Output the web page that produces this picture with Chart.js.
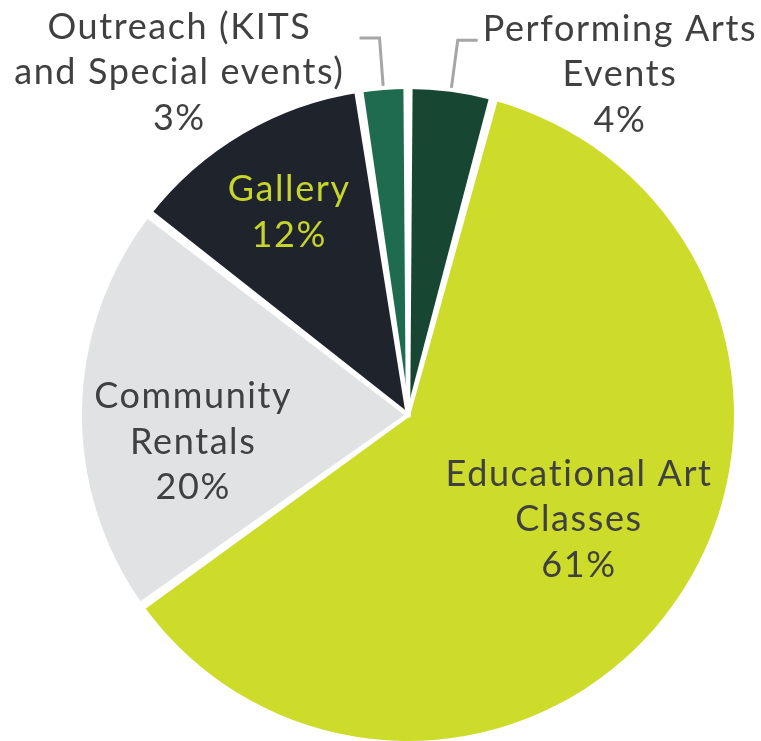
<!DOCTYPE html>
<html>
<head>
<meta charset="utf-8">
<script src="https://cdn.jsdelivr.net/npm/chart.js@4/dist/chart.umd.min.js"></script>
<style>
  html, body { margin: 0; padding: 0; background: #ffffff; overflow: hidden; }
  #wrap { width: 761px; height: 741px; position: relative; }
</style>
</head>
<body>
<div id="wrap"><canvas id="c" width="761" height="741"></canvas></div>
<script>
// ---- data ----
const categories = ['Performing Arts Events', 'Educational Art Classes', 'Community Rentals', 'Gallery', 'Outreach (KITS and Special events)'];
// slice sizes (labels show rounded percentages)
const values = [4.2, 60.9, 20.4, 12.1, 2.4];
const labelLines = [
  ['Performing Arts', 'Events', '4%'],
  ['Educational Art', 'Classes', '61%'],
  ['Community', 'Rentals', '20%'],
  ['Gallery', '12%'],
  ['Outreach (KITS', 'and Special events)', '3%']
];

// ---- styles ----
const colors = ['#174733', '#cddc2b', '#e1e2e4', '#1e232c', '#1f6b50'];
const labelColors = ['#404040', '#404040', '#404040', '#c6d52b', '#404040'];
const labelStyle = [
  { outside: true, side: 1 },
  { frac: 0.615, dAng: -3.3 },
  { frac: 0.664, dAng: -8.3 },
  { frac: 0.72, dAng: 0 },
  { outside: true, side: -1 }
];
const FONT = '36px Lato';
const LETTER = '1.6px';
const LINE_H = 45.5;

const labelPlugin = {
  id: 'sliceLabels',
  afterDatasetsDraw(chart) {
    const ctx = chart.ctx;
    const meta = chart.getDatasetMeta(0);
    // white tapered separators between slices
    ctx.save();
    ctx.fillStyle = '#ffffff';
    meta.data.forEach(arc => {
      const p = arc.getProps(['x', 'y', 'startAngle', 'outerRadius'], true);
      const a = p.startAngle, R = p.outerRadius + 4;
      const nx = -Math.sin(a), ny = Math.cos(a);
      const w0 = 2.2, w1 = 4.6;
      ctx.beginPath();
      ctx.moveTo(p.x + nx * w0, p.y + ny * w0);
      ctx.lineTo(p.x + Math.cos(a) * R + nx * w1, p.y + Math.sin(a) * R + ny * w1);
      ctx.lineTo(p.x + Math.cos(a) * R - nx * w1, p.y + Math.sin(a) * R - ny * w1);
      ctx.lineTo(p.x - nx * w0, p.y - ny * w0);
      ctx.closePath();
      ctx.fill();
    });
    ctx.beginPath();
    ctx.arc(meta.data[0].x, meta.data[0].y, 3, 0, Math.PI * 2);
    ctx.fill();
    ctx.restore();

    ctx.save();
    ctx.font = FONT;
    ctx.letterSpacing = LETTER;
    ctx.textAlign = 'center';
    ctx.textBaseline = 'middle';
    meta.data.forEach((arc, i) => {
      const p = arc.getProps(['x', 'y', 'startAngle', 'endAngle', 'outerRadius'], true);
      const mid = (p.startAngle + p.endAngle) / 2;
      const lines = labelLines[i];
      const st = labelStyle[i];
      ctx.fillStyle = labelColors[i];
      if (!st.outside) {
        const a = mid + st.dAng * Math.PI / 180;
        const cx = p.x + Math.cos(a) * p.outerRadius * st.frac;
        const cy = p.y + Math.sin(a) * p.outerRadius * st.frac;
        const y0 = cy - (lines.length - 1) * LINE_H / 2;
        lines.forEach((t, k) => ctx.fillText(t, cx, y0 + k * LINE_H));
      } else {
        const r1 = p.outerRadius + 4, r2 = p.outerRadius + 52;
        const x1 = p.x + Math.cos(mid) * r1, y1 = p.y + Math.sin(mid) * r1;
        const x2 = p.x + Math.cos(mid) * r2, y2 = p.y + Math.sin(mid) * r2;
        const x3 = x2 + st.side * 20;
        ctx.save();
        ctx.strokeStyle = '#a6a6a6';
        ctx.lineWidth = 3;
        ctx.beginPath();
        ctx.moveTo(x1, y1); ctx.lineTo(x2, y2); ctx.lineTo(x3, y2);
        ctx.stroke();
        ctx.restore();
        const maxW = Math.max(...lines.map(t => ctx.measureText(t).width));
        const cx = x3 + st.side * (maxW / 2 + (st.side > 0 ? 5 : 15));
        const y0 = y2 - 11;
        lines.forEach((t, k) => ctx.fillText(t, cx, y0 + k * LINE_H));
      }
    });
    ctx.restore();
  }
};

new Chart(document.getElementById('c'), {
  type: 'pie',
  data: {
    labels: categories,
    datasets: [{
      data: values,
      backgroundColor: colors,
      borderWidth: 0
    }]
  },
  options: {
    responsive: false,
    animation: false,
    layout: { padding: { top: 89, left: 55, right: 0, bottom: 0 } },
    plugins: {
      legend: { display: false },
      tooltip: { enabled: false }
    }
  },
  plugins: [labelPlugin]
});
</script>
</body>
</html>
